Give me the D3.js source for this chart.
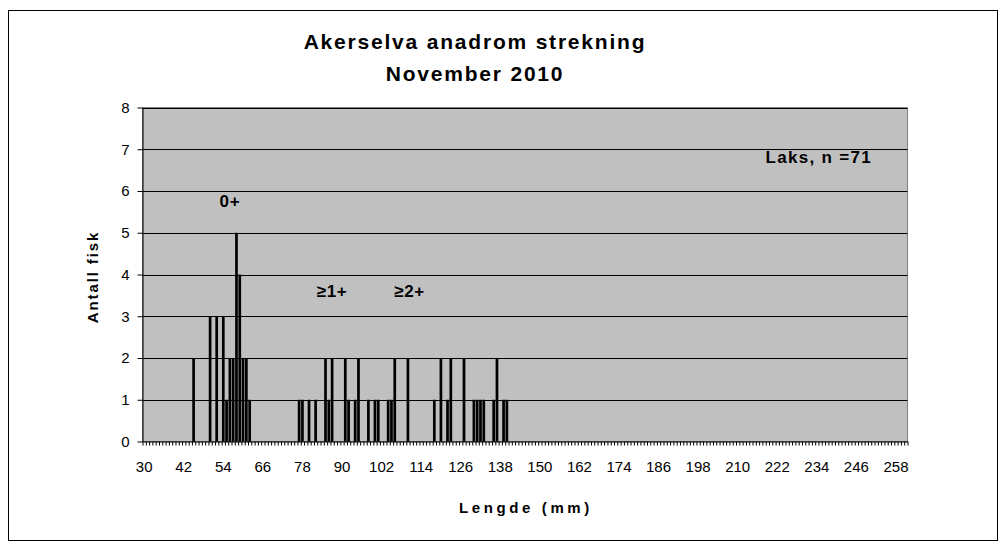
<!DOCTYPE html>
<html>
<head>
<meta charset="utf-8">
<script src="https://cdn.jsdelivr.net/npm/d3@7"></script>
<style>
  body { margin: 0; background: #fff; }
  svg text { font-family: "Liberation Sans", Arial, sans-serif; }
</style>
</head>
<body>
<svg id="chart" width="1006" height="548"></svg>
<script>
// lengths (mm) with at least one fish, and the number of fish at that length
const lengths = [45, 50, 52, 54, 55, 56, 57, 58, 59, 60, 61, 62,
  77, 78, 80, 82, 85, 86, 87, 91, 92, 94, 95, 98, 100, 101, 104, 105, 106, 110,
  118, 120, 122, 123, 127, 130, 131, 132, 133, 136, 137, 139, 140];
const counts = [2, 3, 3, 3, 1, 2, 2, 5, 4, 2, 2, 1,
  1, 1, 1, 1, 2, 1, 2, 2, 1, 1, 2, 1, 1, 1, 1, 1, 2, 2,
  1, 2, 1, 2, 2, 1, 1, 1, 1, 1, 2, 1, 1];

const firstLength = 30;
const lastLength = 261;
const yTicks = [0, 1, 2, 3, 4, 5, 6, 7, 8];

const groupLabels = ["0+", "\u22651+", "\u22652+"];
const groupLabelAt = [56.5, 87.5, 111];
const groupLabelValue = [5.75, 3.6, 3.6];

const titleLines = ["Akerselva anadrom strekning", "November 2010"];
const legendText = "Laks, n =71";

const svg = d3.select("#chart");

// ytre ramme
svg.append("rect")
  .attr("x", 8.5).attr("y", 10.5)
  .attr("width", 989).attr("height", 530)
  .attr("fill", "#fff")
  .attr("stroke", "#000");

const plot = { left: 142.5, right: 907.5, top: 107.5, bottom: 441.5 };

const categories = d3.range(firstLength, lastLength + 1);
const dataMap = new Map(lengths.map((l, i) => [l, counts[i]]));

const x = d3.scaleBand()
  .domain(categories)
  .range([plot.left, plot.right])
  .paddingInner(0.18)
  .paddingOuter(0.09);

// kant-skala for tick-merker mellom kategorier
const xEdge = d3.scaleLinear()
  .domain([firstLength, lastLength + 1])
  .range([plot.left, plot.right]);

const y = d3.scaleLinear()
  .domain([0, 8])
  .range([plot.bottom, plot.top]);

// bakgrunn i plottområdet
svg.append("rect")
  .attr("x", plot.left).attr("y", plot.top)
  .attr("width", plot.right - plot.left)
  .attr("height", plot.bottom - plot.top)
  .attr("fill", "#c0c0c0")
  .attr("stroke", "#808080");

// rutenett
svg.append("g")
  .selectAll("line")
  .data(yTicks.filter(d => d > 0))
  .join("line")
  .attr("x1", plot.left).attr("x2", plot.right)
  .attr("y1", d => Math.round(y(d)) + 0.5)
  .attr("y2", d => Math.round(y(d)) + 0.5)
  .attr("stroke", "#000")
  .attr("stroke-width", 1);

// søyler
svg.append("g")
  .selectAll("rect")
  .data(categories.filter(c => dataMap.has(c)))
  .join("rect")
  .attr("x", d => x(d))
  .attr("width", x.bandwidth())
  .attr("y", d => y(dataMap.get(d)))
  .attr("height", d => plot.bottom - y(dataMap.get(d)))
  .attr("fill", "#000");

// x-akse: tick-merker
const xTickAxis = d3.axisBottom(xEdge)
  .tickValues(d3.range(firstLength, lastLength + 2))
  .tickFormat("")
  .tickSize(4)
  .tickSizeOuter(0);

svg.append("g")
  .attr("transform", `translate(0,${plot.bottom})`)
  .call(xTickAxis)
  .call(g => g.select(".domain").attr("stroke", "#000"))
  .call(g => g.selectAll(".tick line").attr("stroke", "#000"));

// x-akse: etiketter
const xLabelAxis = d3.axisBottom(x)
  .tickValues(categories.filter(c => (c - firstLength) % 12 === 0))
  .tickSize(0)
  .tickPadding(20);

svg.append("g")
  .attr("transform", `translate(0,${plot.bottom})`)
  .call(xLabelAxis)
  .call(g => g.select(".domain").remove())
  .call(g => g.selectAll("text")
    .attr("font-size", 15)
    .attr("font-family", "Liberation Sans, Arial, sans-serif")
    .attr("fill", "#000"));

// y-akse
const yAxis = d3.axisLeft(y)
  .tickValues(yTicks)
  .tickFormat(d3.format("d"))
  .tickSize(5)
  .tickSizeOuter(0)
  .tickPadding(8);

svg.append("g")
  .attr("transform", `translate(${plot.left},0)`)
  .call(yAxis)
  .call(g => g.select(".domain").attr("stroke", "#000"))
  .call(g => g.selectAll(".tick line").attr("stroke", "#000"))
  .call(g => g.selectAll("text")
    .attr("font-size", 15)
    .attr("font-family", "Liberation Sans, Arial, sans-serif")
    .attr("fill", "#000"));

// tittel
svg.append("g")
  .selectAll("text")
  .data(titleLines)
  .join("text")
  .attr("x", 475)
  .attr("y", (d, i) => 49 + i * 32)
  .attr("text-anchor", "middle")
  .attr("font-size", 21)
  .attr("font-weight", "bold")
  .attr("letter-spacing", 1.8)
  .text(d => d);

// aksetitler
svg.append("text")
  .attr("x", 526)
  .attr("y", 513)
  .attr("text-anchor", "middle")
  .attr("font-size", 15)
  .attr("font-weight", "bold")
  .attr("letter-spacing", 3.6)
  .text("Lengde (mm)");

svg.append("text")
  .attr("transform", "translate(98,277) rotate(-90)")
  .attr("text-anchor", "middle")
  .attr("font-size", 15)
  .attr("font-weight", "bold")
  .attr("letter-spacing", 1.9)
  .text("Antall fisk");

// aldersgrupper
svg.append("g")
  .selectAll("text")
  .data(groupLabels)
  .join("text")
  .attr("x", (d, i) => xEdge(groupLabelAt[i]))
  .attr("y", (d, i) => y(groupLabelValue[i]) + 6)
  .attr("text-anchor", "middle")
  .attr("font-size", 17)
  .attr("font-weight", "bold")
  .attr("letter-spacing", 0.6)
  .text(d => d);

svg.append("text")
  .attr("x", 872)
  .attr("y", 163)
  .attr("text-anchor", "end")
  .attr("font-size", 17)
  .attr("font-weight", "bold")
  .attr("letter-spacing", 1.3)
  .text(legendText);
</script>
</body>
</html>
